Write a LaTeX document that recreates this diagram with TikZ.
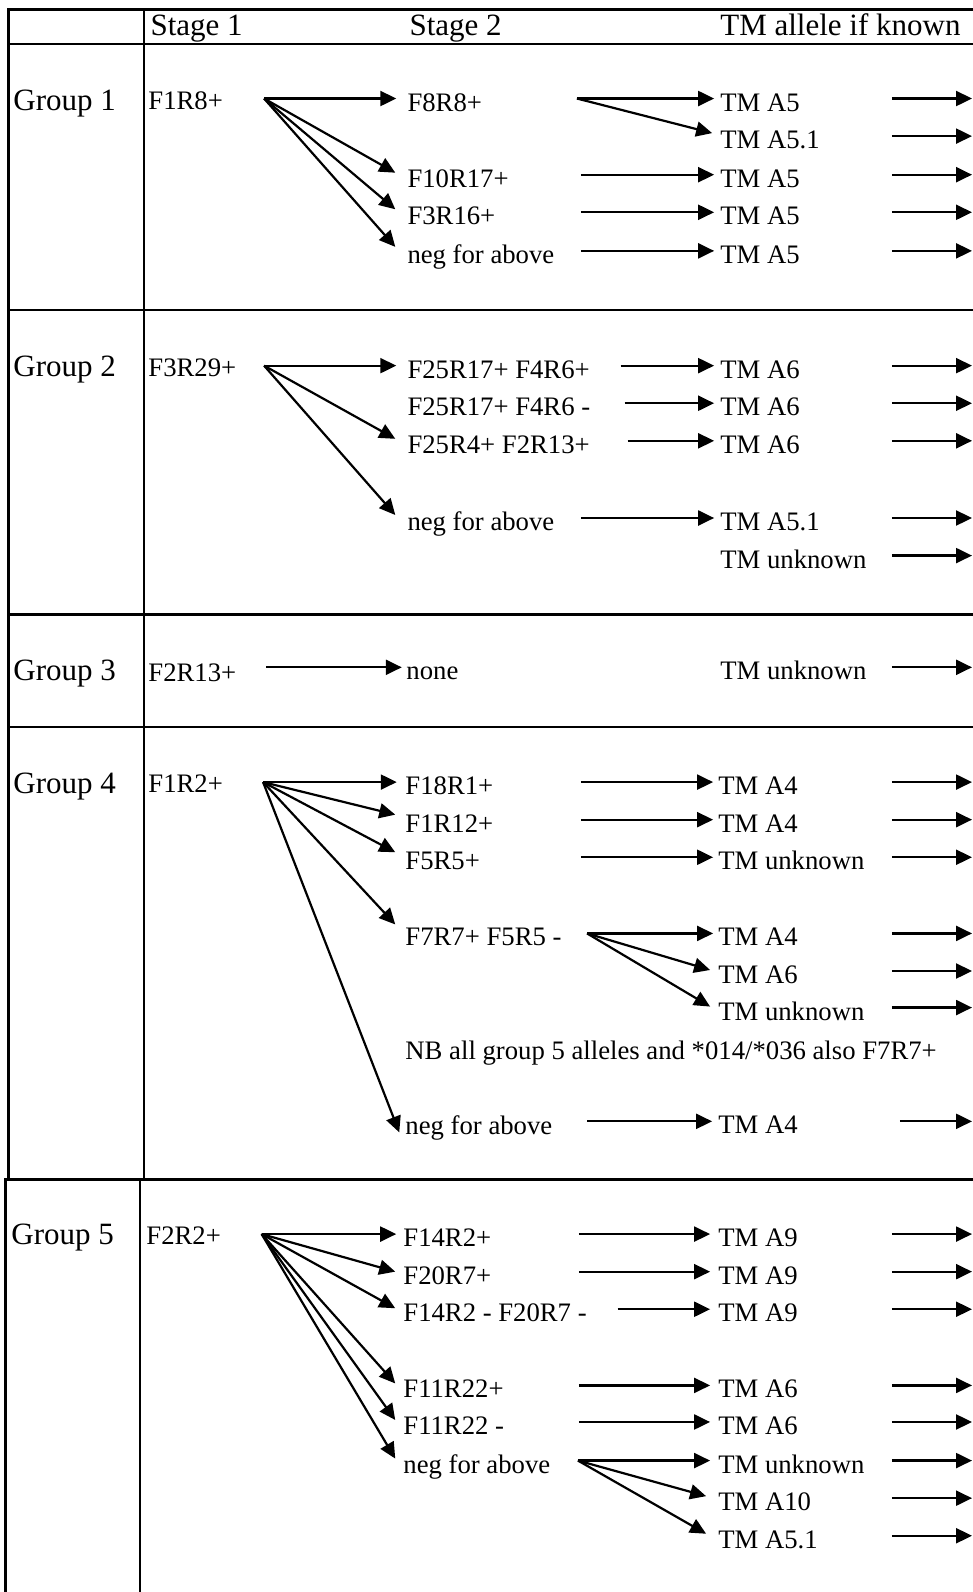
\documentclass[tikz,border=0pt]{standalone}
\usepackage{fontspec}
\setmainfont{Liberation Serif}
\usetikzlibrary{arrows.meta}
\newcommand\bodyfont{\fontsize{26.7pt}{30pt}\selectfont}
\newcommand\headfont{\fontsize{31pt}{35pt}\selectfont}

\begin{document}
\begin{tikzpicture}[x=1.01567pt, y=-1.01567pt,
  rule/.style={line width=2.7pt, line cap=rect},
  arr/.style={line width=2.2pt, -{Triangle[length=16pt,width=15pt]}},
  txt/.style={anchor=west, inner sep=0pt, text height=25pt, text depth=0pt, font=\bodyfont},
  hd/.style={anchor=base west, inner sep=0pt, font=\headfont},
  first/.style={anchor=base west, inner sep=0pt, font=\bodyfont},
]
\useasboundingbox (0,0) rectangle (957,1567.4);

% ---- table rules ----
\draw[rule] (8.2,9.35) -- (957,9.35);
\draw[rule] (8.2,43.3) -- (957,43.3);
\draw[rule] (8.2,305.2) -- (957,305.2);
\draw[rule] (8.2,604.9) -- (957,604.9);
\draw[rule] (8.2,715.8) -- (957,715.8);
\draw[rule] (5.2,1161.1) -- (957,1161.1);
\draw[rule] (8.2,9.35) -- (8.2,1161.1);
\draw[rule] (141.8,9.35) -- (141.8,1161.1);
\draw[rule] (5.2,1161.1) -- (5.2,1568);
\draw[rule] (137.8,1161.1) -- (137.8,1568);

% ---- header ----
\node[hd] (h1) at (148,34.5) {Stage 1};
\node[hd] (h2) at (403,34.5) {Stage 2};
\node[hd] (h3) at (709,34.5) {TM allele if known};

% ---- group labels ----
\node[hd] (g1) at (13,109) {Group 1};
\node[hd] (g2) at (13,371) {Group 2};
\node[hd] (g3) at (13,670) {Group 3};
\node[hd] (g4) at (13,781) {Group 4};
\node[hd] (g5) at (11,1225) {Group 5};

% columns for the arrows on the right edge
\coordinate (rx0) at (878,0);
\coordinate (rx1) at (957,0);

% ================= Group 1 =================
\node[first] (a1) at (146,107.7) {F1R8+};
\coordinate (a1o) at (260,97);
\node[txt] (b11) at (401,97) {F8R8+};
\node[txt] (b12) at (401,172) {F10R17+};
\node[txt] (b13) at (401,209) {F3R16+};
\node[txt] (b14) at (401,247) {neg for above};
\draw[arr] (a1o) -- ([xshift=-11pt]b11.west);
\draw[arr] (a1o) -- ([xshift=-12pt,yshift=2pt]b12.west);
\draw[arr] (a1o) -- ([xshift=-12pt,yshift=3pt]b13.west);
\draw[arr] (a1o) -- ([xshift=-12pt,yshift=4pt]b14.west);

\coordinate (b11o) at (568,97);
\coordinate (b12o) at (572,172);
\coordinate (b13o) at (572,209);
\coordinate (b14o) at (572,247);
\node[txt] (c11) at (709,97) {TM A5};
\node[txt] (c12) at (709,134) {TM A5.1};
\node[txt] (c13) at (709,172) {TM A5};
\node[txt] (c14) at (709,209) {TM A5};
\node[txt] (c15) at (709,247) {TM A5};
\draw[arr] (b11o) -- ([xshift=-6pt]c11.west);
\draw[arr] (b11o) -- ([xshift=-8pt,yshift=3pt]c12.west);
\draw[arr] (b12o) -- ([xshift=-6pt]c13.west);
\draw[arr] (b13o) -- ([xshift=-6pt]c14.west);
\draw[arr] (b14o) -- ([xshift=-6pt]c15.west);

% ================= Group 2 =================
\node[first] (a2) at (146,370.7) {F3R29+};
\coordinate (a2o) at (260,360);
\node[txt] (b21) at (401,360) {F25R17+ F4R6+};
\node[txt] (b22) at (401,397) {F25R17+ F4R6 -};
\node[txt] (b23) at (401,434) {F25R4+ F2R13+};
\node[txt] (b24) at (401,510) {neg for above};
\draw[arr] (a2o) -- ([xshift=-11pt]b21.west);
\draw[arr] (a2o) -- ([xshift=-12pt,yshift=2pt]b23.west);
\draw[arr] (a2o) -- ([xshift=-12pt,yshift=3pt]b24.west);

\coordinate (b21o) at (611,360);
\coordinate (b22o) at (615,397);
\coordinate (b23o) at (618,434);
\coordinate (b24o) at (572,510);
\node[txt] (c21) at (709,360) {TM A6};
\node[txt] (c22) at (709,397) {TM A6};
\node[txt] (c23) at (709,434) {TM A6};
\node[txt] (c24) at (709,510) {TM A5.1};
\node[txt] (c25) at (709,547) {TM unknown};
\draw[arr] (b21o) -- ([xshift=-6pt]c21.west);
\draw[arr] (b22o) -- ([xshift=-6pt]c22.west);
\draw[arr] (b23o) -- ([xshift=-6pt]c23.west);
\draw[arr] (b24o) -- ([xshift=-6pt]c24.west);

% ================= Group 3 =================
\node[first] (a3) at (146,670.7) {F2R13+};
\coordinate (a3o) at (262,657);
\node[txt] (b31) at (400,657) {none};
\draw[arr] (a3o) -- ([xshift=-4.5pt]b31.west);
\node[txt] (c31) at (709,657) {TM unknown};

% ================= Group 4 =================
\node[first] (a4) at (146,780.7) {F1R2+};
\coordinate (a4o) at (259,770);
\node[txt] (b41) at (399,770) {F18R1+};
\node[txt] (b42) at (399,807) {F1R12+};
\node[txt] (b43) at (399,844) {F5R5+};
\node[txt] (b44) at (399,919) {F7R7+ F5R5 -};
\node[txt] (nb)  at (399,1031) {NB all group 5 alleles and *014/*036 also F7R7+};
\node[txt] (b45) at (399,1105) {neg for above};
\draw[arr] (a4o) -- ([xshift=-8.5pt]b41.west);
\draw[arr] (a4o) -- ([xshift=-10pt,yshift=5pt]b42.west);
\draw[arr] (a4o) -- ([xshift=-10pt,yshift=5pt]b43.west);
\draw[arr] (a4o) -- ([xshift=-10pt,yshift=9pt]b44.west);
\draw[arr] (a4o) -- ([xshift=-6pt,yshift=-10pt]b45.west);

\coordinate (b41o) at (572,770);
\coordinate (b42o) at (572,807);
\coordinate (b43o) at (572,844);
\coordinate (b44o) at (578,919);
\coordinate (b45o) at (578,1104);
\node[txt] (c41) at (707,770) {TM A4};
\node[txt] (c42) at (707,807) {TM A4};
\node[txt] (c43) at (707,844) {TM unknown};
\node[txt] (c44) at (707,919) {TM A4};
\node[txt] (c45) at (707,956) {TM A6};
\node[txt] (c46) at (707,992) {TM unknown};
\node[txt] (c47) at (707,1104) {TM A4};
\draw[arr] (b41o) -- ([xshift=-5pt]c41.west);
\draw[arr] (b42o) -- ([xshift=-5pt]c42.west);
\draw[arr] (b43o) -- ([xshift=-5pt]c43.west);
\draw[arr] (b44o) -- ([xshift=-5pt]c44.west);
\draw[arr] (b44o) -- ([xshift=-8pt,yshift=1pt]c45.west);
\draw[arr] (b44o) -- ([xshift=-8pt,yshift=1pt]c46.west);
\draw[arr] (b45o) -- ([xshift=-6pt]c47.west);

% ================= Group 5 =================
\node[first] (a5) at (144,1225.7) {F2R2+};
\coordinate (a5o) at (257.6,1215);
\node[txt] (b51) at (397,1215) {F14R2+};
\node[txt] (b52) at (397,1252) {F20R7+};
\node[txt] (b53) at (397,1289) {F14R2 - F20R7 -};
\node[txt] (b54) at (397,1364) {F11R22+};
\node[txt] (b55) at (397,1400) {F11R22 -};
\node[txt] (b56) at (397,1438) {neg for above};
\draw[arr] (a5o) -- ([xshift=-7pt]b51.west);
\draw[arr] (a5o) -- ([xshift=-8pt]b52.west);
\draw[arr] (a5o) -- ([xshift=-8pt,yshift=1pt]b53.west);
\draw[arr] (a5o) -- ([xshift=-8pt,yshift=2pt]b54.west);
\draw[arr] (a5o) -- ([xshift=-8pt,yshift=2pt]b55.west);
\draw[arr] (a5o) -- ([xshift=-8pt,yshift=2pt]b56.west);

\coordinate (b51o) at (570,1215);
\coordinate (b52o) at (570,1252);
\coordinate (b53o) at (608,1289);
\coordinate (b54o) at (570,1364);
\coordinate (b55o) at (570,1400);
\coordinate (b56o) at (569,1438);
\node[txt] (c51) at (707,1215) {TM A9};
\node[txt] (c52) at (707,1252) {TM A9};
\node[txt] (c53) at (707,1289) {TM A9};
\node[txt] (c54) at (707,1364) {TM A6};
\node[txt] (c55) at (707,1400) {TM A6};
\node[txt] (c56) at (707,1438) {TM unknown};
\node[txt] (c57) at (707,1475) {TM A10};
\node[txt] (c58) at (707,1512) {TM A5.1};
\draw[arr] (b51o) -- ([xshift=-8pt]c51.west);
\draw[arr] (b52o) -- ([xshift=-8pt]c52.west);
\draw[arr] (b53o) -- ([xshift=-8pt]c53.west);
\draw[arr] (b54o) -- ([xshift=-8pt]c54.west);
\draw[arr] (b55o) -- ([xshift=-8pt]c55.west);
\draw[arr] (b56o) -- ([xshift=-8pt]c56.west);
\draw[arr] (b56o) -- ([xshift=-12pt,yshift=2pt]c57.west);
\draw[arr] (b56o) -- ([xshift=-12pt,yshift=2pt]c58.west);

% ---- arrows running out at the right edge ----
\foreach \n in {c11,c12,c13,c14,c15,c21,c22,c23,c24,c25,c31,
                c41,c42,c43,c44,c45,c46,
                c51,c52,c53,c54,c55,c56,c57,c58}
  \draw[arr] (\n.west -| rx0) -- (\n.west -| rx1);
\draw[arr] ([xshift=8pt]c47.west -| rx0) -- (c47.west -| rx1);

\end{tikzpicture}
\end{document}
